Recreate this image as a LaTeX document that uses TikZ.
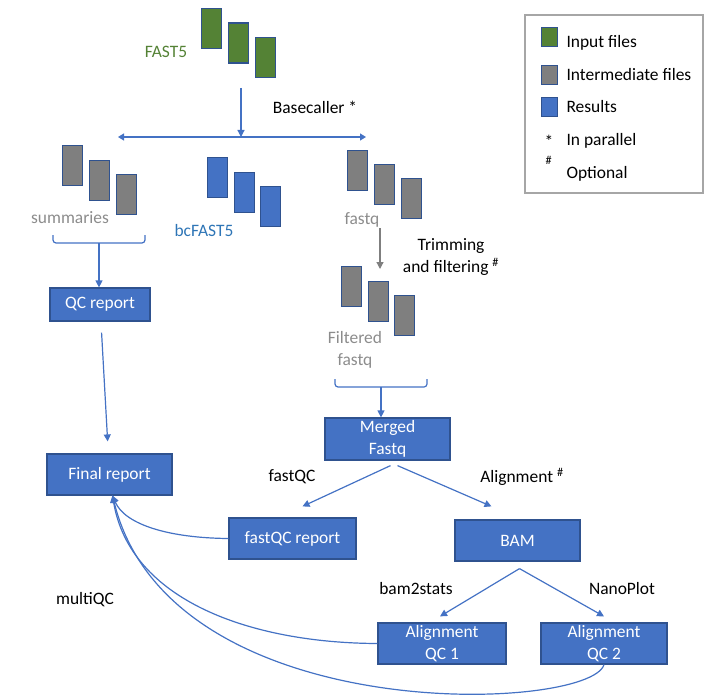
\documentclass[tikz,border=0pt]{standalone}
\usepackage{fontspec}
\setmainfont{Carlito}
\usetikzlibrary{arrows.meta}
\definecolor{ingreen}{HTML}{548235}
\definecolor{midgray}{HTML}{7F7F7F}
\definecolor{resblue}{HTML}{4472C4}
\definecolor{edgeblue}{HTML}{2F528F}
\definecolor{lblgray}{HTML}{8C8C8C}
\definecolor{lblblue}{HTML}{2E75B6}
\definecolor{boxgray}{HTML}{A6A6A6}

\begin{document}
\begin{tikzpicture}[x=1bp,y=-1bp,
    every node/.style={font=\fontsize{17.5}{22}\selectfont},
    file/.style={draw=edgeblue,line width=1.4bp,minimum width=20bp,minimum height=40bp,anchor=north west,inner sep=0},
    result/.style={draw=edgeblue,fill=resblue,text=white,line width=1.2bp,minimum width=125bp,minimum height=41bp,align=center,inner sep=0},
    key/.style={draw=edgeblue,line width=1.4bp,minimum width=16bp,minimum height=19bp,inner sep=0},
    arr/.style={draw=resblue,line width=1.2bp,-{Triangle[length=7bp,width=7bp]}},
    tag/.style={align=center}]
\useasboundingbox (0,0) rectangle (720,700);

% FAST5 input
\node[text=ingreen] (fast5) at (166,52) {FAST5};
\begin{scope}[shift={(201,8)}]
    \foreach \i in {0,1,2}
        \node[file,fill=ingreen] (fast5-\i) at (\i*27,\i*14.5) {};
\end{scope}
\coordinate (basecall) at (241,88);
\coordinate (split) at (241,137);
\coordinate (splitL) at (118,137);
\coordinate (splitR) at (366,137);
\draw[arr] (basecall)--(split);
\draw[draw=resblue,line width=1.2bp,{Triangle[length=6bp,width=7bp]}-{Triangle[length=6bp,width=7bp]}] (splitL)--(splitR);
\node (basecaller) at (315,107) {Basecaller *};

% summaries
\begin{scope}[shift={(62,145)}]
    \foreach \i in {0,1,2}
        \node[file,fill=midgray] (summ-\i) at (\i*27,\i*14.5) {};
\end{scope}
\node[text=lblgray] (summaries) at (70,218) {summaries};
\draw[resblue,line width=1.2bp,rounded corners=3bp] (53,235)--(53,243)--(145,243)--(145,235);
\coordinate (summbr) at (99,243);
\node[result,minimum width=100bp,minimum height=33bp] (qcrep) at (100,304.5) {QC report};
\draw[arr] (summbr)--(summbr |- qcrep.north);

% bcFAST5
\begin{scope}[shift={(207,157)}]
    \foreach \i in {0,1,2}
        \node[file,fill=resblue] (bc-\i) at (\i*26.5,\i*14.5) {};
\end{scope}
\node[text=lblblue] (bcfast5) at (204,231) {bcFAST5};

% fastq
\begin{scope}[shift={(347,150)}]
    \foreach \i in {0,1,2}
        \node[file,fill=midgray] (fq-\i) at (\i*27,\i*14) {};
\end{scope}
\node[text=lblgray] (fastq) at (362,220) {fastq};
\coordinate (trimtop) at (380,228);
\coordinate (trimend) at (380,269);
\draw[arr,draw=midgray] (trimtop)--(trimend);
\node[tag] (trim) at (451,257) {Trimming\\and filtering \textsuperscript{\#}};

% filtered fastq
\begin{scope}[shift={(341,266)}]
    \foreach \i in {0,1,2}
        \node[file,fill=midgray] (filt-\i) at (\i*26.5,\i*14.5) {};
\end{scope}
\node[tag,text=lblgray] (filtered) at (355,350) {Filtered\\fastq};
\draw[resblue,line width=1.2bp,rounded corners=3bp] (335,379)--(335,387)--(427,387)--(427,379);
\coordinate (fqbr) at (381,387);
\node[result,minimum height=42bp] (merged) at (387.5,439) {Merged\\Fastq};
\draw[arr] (fqbr)--(fqbr |- merged.north);

% reports
\node[result] (final) at (109.5,474.5) {Final report};
\draw[arr,shorten <=11bp,shorten >=12bp] (qcrep)--(final);
\node[result,minimum width=127bp] (fqcrep) at (292.5,538.5) {fastQC report};
\node[result] (bam) at (517.5,540.5) {BAM};
\node[result,minimum width=128bp] (qc1) at (442,643.5) {Alignment\\QC 1};
\node[result,minimum width=126bp] (qc2) at (604,643.5) {Alignment\\QC 2};
\node (fastqc) at (292,477) {fastQC};
\node (align) at (522,477) {Alignment \textsuperscript{\#}};
\node (bam2stats) at (416,589) {bam2stats};
\node (nanoplot) at (622,589) {NanoPlot};
\node (multiqc) at (85,600) {multiQC};

\draw[arr] ([xshift=3bp,yshift=-5bp]merged.south)--([xshift=10bp,yshift=11bp]fqcrep.north);
\draw[arr] ([xshift=10bp,yshift=-5bp]merged.south)--([xshift=-26bp,yshift=13bp]bam.north);
\coordinate (bamfork) at ([xshift=2bp,yshift=-7bp]bam.south);
\draw[arr] (bamfork)--([xshift=-2bp,yshift=6bp]qc1.north);
\draw[arr] (bamfork)--([yshift=6bp]qc2.north);

% multiQC
\draw[arr] (fqcrep.west) .. controls (170,538) and (125,525) .. ([xshift=3bp]final.south);
\draw[arr] (qc1.west) .. controls (250,643) and (130,600) .. ([xshift=3bp]final.south);
\draw[arr] (qc2.south) .. controls (590,712) and (170,730) .. ([xshift=3bp]final.south);

% legend
\node[draw=boxgray,line width=1.3bp,minimum width=178bp,minimum height=178bp,inner sep=0] (legend) at (614,104) {};
\node[key,fill=ingreen] (key-in) at (549.5,37) {};
\node[key,fill=midgray] (key-mid) at (549.5,75) {};
\node[key,fill=resblue] (key-res) at (549.5,107) {};
\node (key-par) at (549,141) {*};
\node (key-opt) at (549,164) {\textsuperscript{\#}};
\node[anchor=west] (lbl-in) at (563,43) {Input files};
\node[anchor=west] (lbl-mid) at (563,75) {Intermediate files};
\node[anchor=west] (lbl-res) at (563,107) {Results};
\node[anchor=west] (lbl-par) at (563,141) {In parallel};
\node[anchor=west] (lbl-opt) at (563,174) {Optional};
\end{tikzpicture}
\end{document}
